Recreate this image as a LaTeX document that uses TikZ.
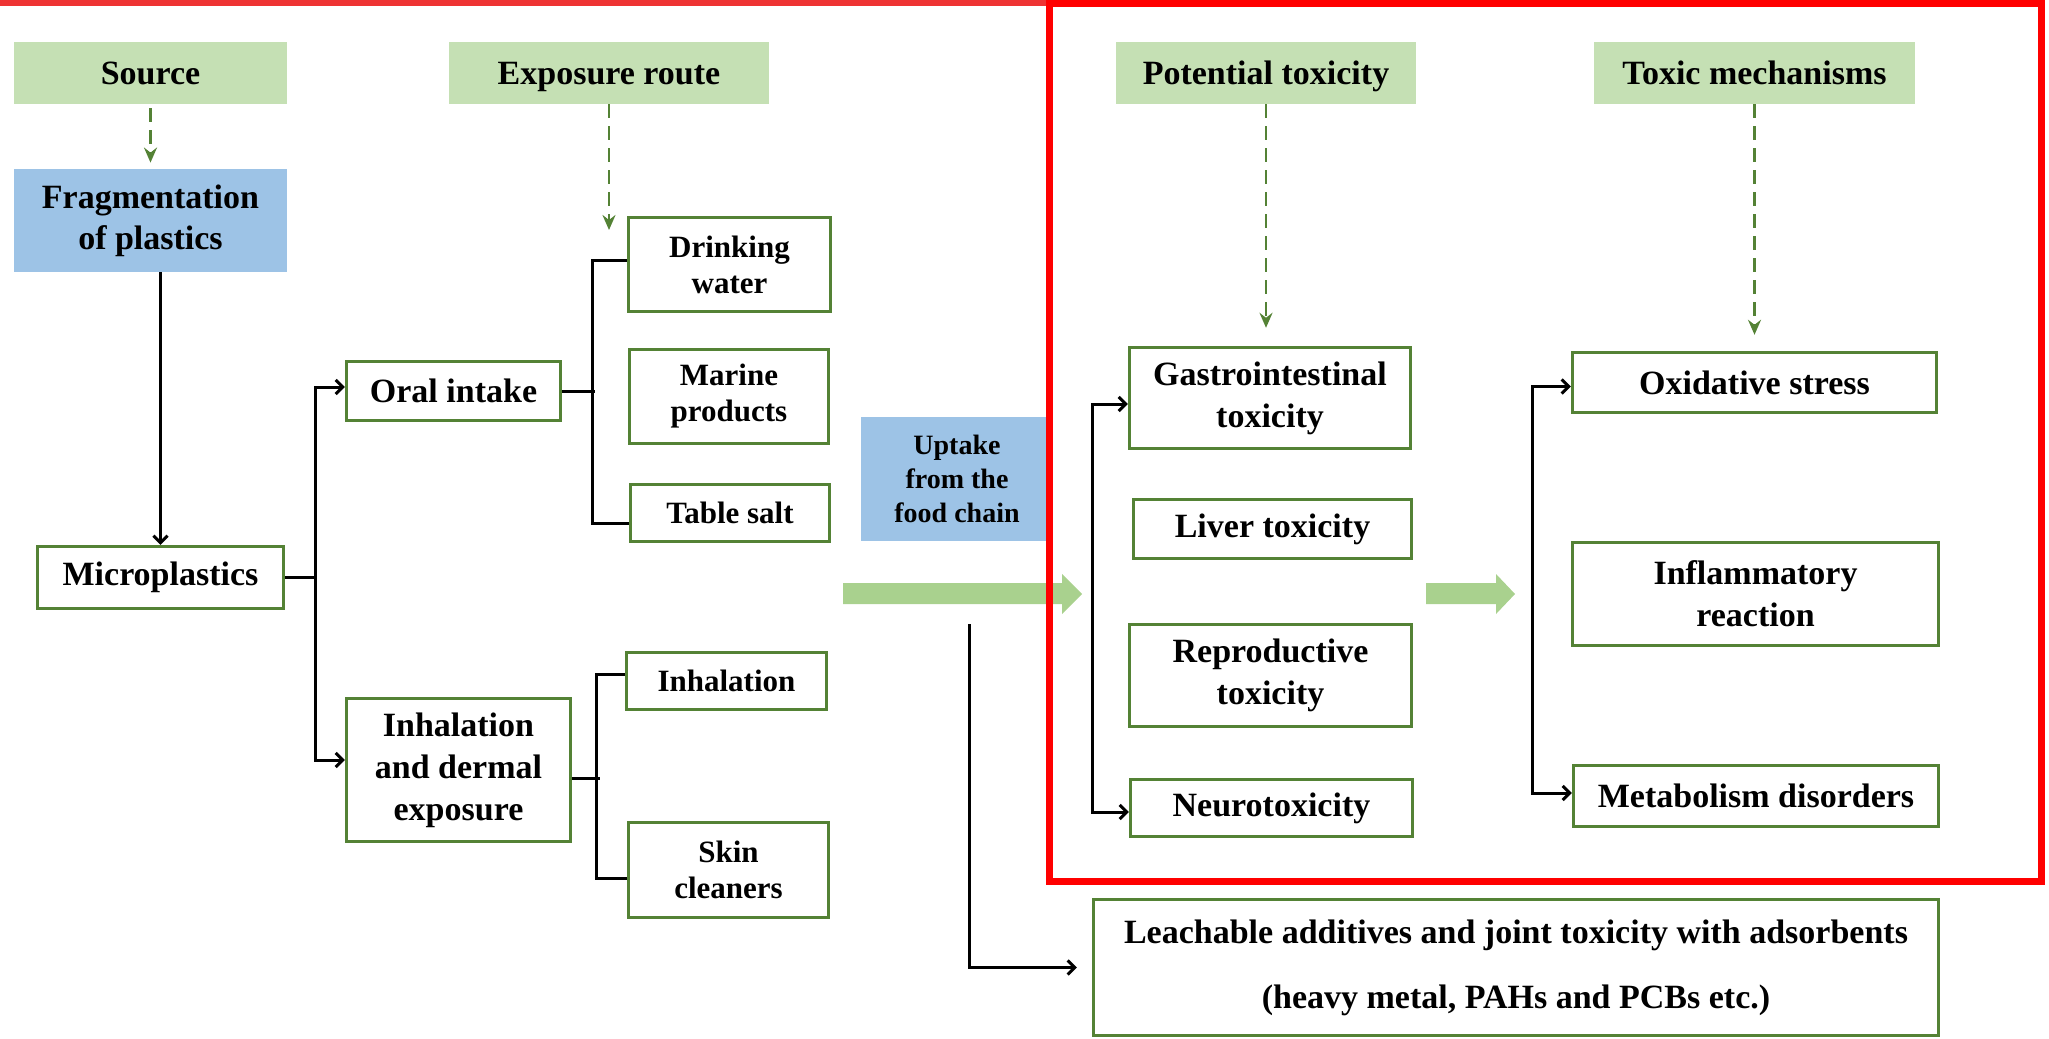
\documentclass[tikz,border=0pt]{standalone}
\usepackage{fontspec}
\setmainfont{Liberation Serif}
\usetikzlibrary{arrows.meta,calc}

\definecolor{headgreen}{HTML}{C5E0B4}
\definecolor{boxgreen}{HTML}{548235}
\definecolor{flowgreen}{HTML}{A9D18E}
\definecolor{stepblue}{HTML}{9DC3E6}
\definecolor{framered}{HTML}{FF0000}
\definecolor{stripred}{HTML}{EE3333}

\begin{document}
\begin{tikzpicture}[x=0.5pt,y=-0.5pt,
    head/.style={fill=headgreen, inner sep=0pt, text height=14pt, text depth=3pt, font=\fontsize{17}{20}\selectfont\bfseries},
    stepbox/.style={fill=stepblue, inner sep=0pt, align=center, font=\fontsize{17}{20.5}\selectfont\bfseries},
    item/.style={draw=boxgreen, line width=1.7pt, fill=white, inner sep=0pt, align=center, font=\fontsize{17}{21}\selectfont\bfseries},
    subitem/.style={item, font=\fontsize{15.5}{18}\selectfont\bfseries},
    wh/.style 2 args={minimum width=#1*0.5pt, minimum height=#2*0.5pt},
    dasharr/.style={draw=boxgreen, line width=1.4pt, dash pattern=on 7pt off 4pt, -{Stealth[length=7.5pt,width=6.5pt,inset=2.5pt]}},
    link/.style={line width=1.5pt},
    arr/.style={link, -{Straight Barb[length=3.5pt,width=7pt]}},
    arrboth/.style={link, {Straight Barb[length=3.5pt,width=7pt]}-{Straight Barb[length=3.5pt,width=7pt]}}]
  \useasboundingbox (0,0) rectangle (2049,1038);
  \fill[stripred] (0,0) rectangle (1049,6);

  % column headers
  \node[head, wh={273}{62}] (src) at (150.5,73) {Source};
  \node[head, wh={320}{62}] (expo) at (609,73) {Exposure route};
  \node[head, wh={300}{62}] (pot) at (1266,73) {Potential toxicity};
  \node[head, wh={321}{62}] (mech) at (1754.5,73) {Toxic mechanisms};

  % source and exposure
  \node[stepbox, wh={273}{103}] (frag) at (150.5,220.5) {Fragmentation\\of plastics};
  \node[item, wh={246}{62}] (micro) at (160.5,577.5) {Microplastics};
  \node[item, wh={214}{59}] (oral) at (453.5,391) {Oral intake};
  \node[item, wh={224}{143}] (inhd) at (458.5,770) {Inhalation\\and dermal\\exposure};
  \node[subitem, wh={202}{94}] (drink) at (729.5,264.5) {Drinking\\water};
  \node[subitem, wh={199}{94}] (marine) at (729,396.5) {Marine\\products};
  \node[subitem, wh={199}{57}] (salt) at (730,513) {Table salt};
  \node[subitem, wh={200}{57}] (inhal) at (726.5,681) {Inhalation};
  \node[subitem, wh={200}{95}] (skin) at (728.5,870) {Skin\\cleaners};

  % food chain
  \fill[flowgreen] (843,583) -- (1062,583) -- (1062,574) -- (1082,594) -- (1062,614) -- (1062,604) -- (843,604) -- cycle;
  \node[stepbox, wh={192}{124}, font=\fontsize{14}{17}\selectfont\bfseries] (uptake) at (957,479) {Uptake\\from the\\food chain};

  % toxicity
  \node[item, wh={281}{101}] (gastro) at (1270,398) {Gastrointestinal\\toxicity};
  \node[item, wh={278}{59}] (liver) at (1272.5,529) {Liver toxicity};
  \node[item, wh={282}{102}] (repro) at (1270.5,675.5) {Reproductive\\toxicity};
  \node[item, wh={282}{57}] (neuro) at (1271.5,808) {Neurotoxicity};
  \fill[flowgreen] (1426,583) -- (1496,583) -- (1496,574) -- (1515,594) -- (1496,614) -- (1496,604) -- (1426,604) -- cycle;
  \node[item, wh={364}{60}] (oxid) at (1754.5,382.5) {Oxidative stress};
  \node[item, wh={366}{103}] (inflam) at (1755.5,594) {Inflammatory\\reaction};
  \node[item, wh={365}{61}] (metab) at (1756,796) {Metabolism disorders};
  \node[item, wh={845}{136}, font=\fontsize{17}{32.5}\selectfont\bfseries] (leach) at (1516,967.5)
    {Leachable additives and joint toxicity with adsorbents\\(heavy metal, PAHs and PCBs etc.)};

  \coordinate (expoend) at (609,230);
  \coordinate (dropA) at (969,624);

  % dashed header arrows
  \draw[dasharr, shorten <=2pt, shorten >=3pt] (src) -- (frag);
  \draw[dasharr] (expo) -- (expoend);
  \draw[dasharr, shorten >=9pt] (pot.south) -- (pot.south |- gastro.north);
  \draw[dasharr, shorten >=8pt] (mech.south) -- (mech.south |- oxid.north);

  % routes
  \draw[arr] (micro.north |- frag.south) -- (micro);
  \draw[arr] (micro.east) -- ++(30,0) |- ([yshift=2pt]oral.west);
  \draw[arr] (micro.east) -- ++(30,0) |- ([yshift=5pt]inhd.west);
  \draw[link] (oral.east) -- ++(33,0);
  \draw[link] ([yshift=2pt]drink.west) -- ++(-34,0) |- ([yshift=-5pt]salt.west);
  \draw[link] ([yshift=-4pt]inhd.east) -- ++(27.5,0);
  \draw[link] ([yshift=3.5pt]inhal.west) -- ++(-28.5,0) |- ([yshift=-4pt]skin.west);
  \draw[arr, shorten >=7.5pt] (dropA) |- (leach.west);
  \draw[arrboth] ([yshift=-3pt]gastro.west) -- ++(-35.5,0) |- ([yshift=-2pt]neuro.west);
  \draw[arrboth] ([yshift=-2pt]oxid.west) -- ++(-38.5,0) |- ([yshift=1.5pt]metab.west);

  % frame
  \draw[framered, line width=3.5pt] (1049.5,4) rectangle (2041.5,881.5);
\end{tikzpicture}
\end{document}
